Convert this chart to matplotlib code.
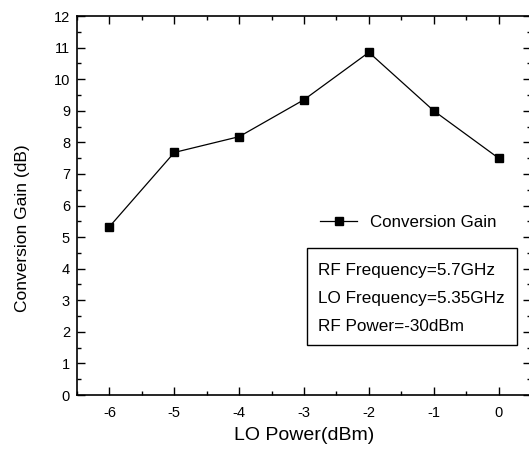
import matplotlib.pyplot as plt
from matplotlib.ticker import MultipleLocator
from matplotlib.patches import Rectangle

# data
lo_power = [-6, -5, -4, -3, -2, -1, 0]
gain = [5.33, 7.68, 8.18, 9.35, 10.85, 9.0, 7.5]
notes = ['RF Frequency=5.7GHz', 'LO Frequency=5.35GHz', 'RF Power=-30dBm']

plt.rcParams['font.family'] = ['Liberation Sans', 'DejaVu Sans']
plt.rcParams['axes.unicode_minus'] = False

fig = plt.figure(figsize=(5.29, 4.59), dpi=100)
ax = fig.add_axes([0.1456, 0.1394, 0.8582, 0.8257])

ax.plot(lo_power, gain, color='black', lw=0.9, marker='s', ms=5.5,
        mfc='black', mec='black', label='Conversion Gain')

ax.set_xlim(-6.5, 0.5)
ax.set_ylim(0, 12)
ax.xaxis.set_major_locator(MultipleLocator(1))
ax.xaxis.set_minor_locator(MultipleLocator(0.5))
ax.yaxis.set_major_locator(MultipleLocator(1))
ax.yaxis.set_minor_locator(MultipleLocator(0.5))
ax.tick_params(which='both', direction='in', top=True, right=True,
               labelsize=10.5, width=1)
ax.tick_params(which='major', length=6)
ax.tick_params(axis='x', which='major', pad=8)
ax.tick_params(axis='y', which='major', pad=5)
ax.tick_params(which='minor', length=3)
for s in ax.spines.values():
    s.set_linewidth(1.2)

ax.set_xlabel('LO Power(dBm)', fontsize=14)
ax.xaxis.set_label_coords(0.5, -0.084)
ax.set_ylabel('Conversion Gain (dB)', fontsize=12.5)
ax.yaxis.set_label_coords(-0.104, 0.44)

ax.legend(loc='center left', bbox_to_anchor=(0.535, 0.456),
          frameon=False, fontsize=12.2,
          handlelength=2.2, handletextpad=0.75,
          borderpad=0, borderaxespad=0)

# box with the test conditions
ax.add_patch(Rectangle((-2.954, 1.58), 3.238, 3.07, fill=False,
                       ec='black', lw=1, zorder=3))
for y, line in zip([3.95, 3.07, 2.18], notes):
    ax.text(-2.784, y, line, fontsize=12.3, va='center', ha='left')

fig.savefig('out.png', dpi=100)
